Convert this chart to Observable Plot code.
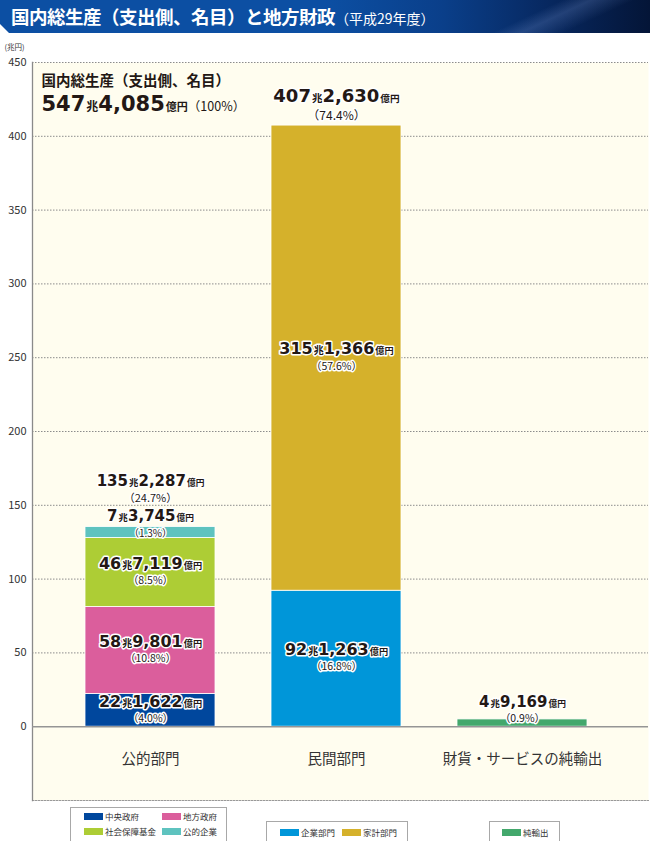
<!DOCTYPE html>
<html><head><meta charset="utf-8">
<script src="https://cdn.jsdelivr.net/npm/d3@7"></script>
<script src="https://cdn.jsdelivr.net/npm/@observablehq/plot@0.6"></script>
<style>
body{margin:0;background:#fff;font-family:"Noto Sans CJK JP","Noto Sans",sans-serif;}
#wrap{position:relative;width:650px;height:841px;overflow:hidden;background:#fff;}
#title{position:absolute;left:0;top:0;width:650px;height:33px;color:#fff;
 background:
  linear-gradient(155deg, rgba(255,255,255,0) 78%, rgba(120,150,210,0.25) 82%, rgba(255,255,255,0) 88%),
  linear-gradient(90deg,#0c4fa3 0%,#0c4fa3 50%,#0a3f8a 68%,#07275e 85%,#041537 100%);
 clip-path:polygon(0 0,100% 0,100% 100%,9px 100%,0 calc(100% - 9px));}
#title .t1{position:absolute;left:11px;top:3px;font-size:18.5px;font-weight:700;letter-spacing:-0.5px;white-space:nowrap;}
#title .t2{font-size:14px;font-weight:400;letter-spacing:0;}
#chart{position:absolute;left:0;top:33px;}
.lg{position:absolute;border:1px solid #a8a8a8;background:#fff;box-sizing:border-box;}
.sw{position:absolute;height:7px;}
.lt{position:absolute;font-size:8.5px;color:#333;white-space:nowrap;line-height:11px;}
</style></head>
<body><div id="wrap">
<div id="title"><div class="t1">国内総生産（支出側、名目）と地方財政<span class="t2">（平成29年度）</span></div></div>
<div id="chart"></div>
</div>
<script>
// ---- data ----
const categories = ["公的部門", "民間部門", "財貨・サービスの純輸出"];
const seriesNames = ["中央政府", "地方政府", "社会保障基金", "公的企業", "企業部門", "家計部門", "純輸出"];
const seriesCategory = ["公的部門", "公的部門", "公的部門", "公的部門", "民間部門", "民間部門", "財貨・サービスの純輸出"];
const values = [22.1622, 58.9801, 46.7119, 7.3745, 92.1263, 315.1366, 4.9169];
const valueLabels = ["22兆1,622億円", "58兆9,801億円", "46兆7,119億円", "7兆3,745億円", "92兆1,263億円", "315兆1,366億円", "4兆9,169億円"];
const percentLabels = ["（4.0%）", "（10.8%）", "（8.5%）", "（1.3%）", "（16.8%）", "（57.6%）", "（0.9%）"];
const totalCategories = ["公的部門", "民間部門"];
const totalValues = [135.2287, 407.2630];
const totalLabels = ["135兆2,287億円", "407兆2,630億円"];
const totalPercents = ["（24.7%）", "（74.4%）"];
const gdpTitle = "国内総生産（支出側、名目）";
const gdpLabel = "547兆4,085億円（100%）";
const colors = ["#00479d", "#db5e9c", "#adcd35", "#5ec3bf", "#0096d9", "#d5b12b", "#43a86c"];
const legendGroups = [["中央政府", "地方政府", "社会保障基金", "公的企業"], ["企業部門", "家計部門"], ["純輸出"]];
const yTicks = [0, 50, 100, 150, 200, 250, 300, 350, 400, 450];
const yUnit = "(兆円)";

// ---- rows with stack extents ----
const cum = {};
const rows = seriesNames.map((s, i) => {
  const c = seriesCategory[i];
  const lo = cum[c] || 0, hi = lo + values[i];
  cum[c] = hi;
  return {i, series: s, cat: c, value: values[i], lo, hi, main: valueLabels[i], pct: percentLabels[i]};
});
const totals = totalCategories.map((c, i) => ({cat: c, value: totalValues[i], main: totalLabels[i], pct: totalPercents[i]}));

const ink = "#231815";
const halo = {stroke: "white", strokeWidth: 3, paintOrder: "stroke", strokeLinejoin: "round", fill: ink};
function lbl(data, y, dyMain, dyPct, cls, pctSize) {
  return [
    Plot.text(data, {x: "cat", y, text: "main", dy: dyMain, className: cls, fontWeight: 700, ...halo}),
    Plot.text(data, {x: "cat", y, text: "pct", dy: dyPct, fontSize: pctSize, ...halo})
  ];
}
const segs = rows.filter(d => ![3, 6].includes(d.i));
const mid = d => (d.lo + d.hi) / 2;

const chart = Plot.plot({
  width: 650, height: 770,
  marginLeft: 32, marginRight: 2, marginTop: 29, marginBottom: 3,
  style: {fontFamily: "'Noto Sans CJK JP', sans-serif", color: "#333", background: "transparent"},
  x: {domain: categories, paddingInner: 0.3, paddingOuter: 0.3, align: 0.464, axis: null},
  y: {domain: [-50, 450], axis: null},
  color: {domain: seriesNames, range: colors},
  marks: [
    Plot.frame({fill: "#fffdef", stroke: "none"}),
    Plot.gridY(yTicks.filter(v => v > 0), {stroke: "#8c8c8c", strokeOpacity: 1, strokeDasharray: "1.5,1.5"}),
    Plot.frame({anchor: "bottom", stroke: "#999", strokeDasharray: "1.5,1.5"}),
    Plot.frame({anchor: "left", stroke: "#8a8a8a", strokeWidth: 1.3}),
    Plot.barY(rows, {x: "cat", y: "value", fill: "series", order: seriesNames, stroke: "white", strokeWidth: 0.8}),
    Plot.ruleY([0], {stroke: "#959595", strokeWidth: 1.6}),
    Plot.axisY(yTicks, {tickSize: 0, tickPadding: 6, fontSize: 11, label: null}),
    Plot.axisX({tickSize: 0, tickPadding: 0, dy: -47, fontSize: 14.5, label: null, fill: "#333"}),
    Plot.text([yUnit], {frameAnchor: "top-left", dx: -28, dy: -18, textAnchor: "start", fontSize: 7.5, fill: "#333"}),
    Plot.text([gdpTitle], {frameAnchor: "top-left", dx: 9, dy: 13, textAnchor: "start", fontSize: 14.5, fontWeight: 700, fill: ink}),
    Plot.text([gdpLabel], {frameAnchor: "top-left", dx: 9, dy: 41, textAnchor: "start", fontWeight: 700, fill: ink, className: "gdp"}),
    ...lbl(segs, mid, -7, 8, "seg", 10.5),
    ...lbl(rows.filter(d => d.i === 3), "hi", -9, 6.5, "small", 10),
    ...lbl(rows.filter(d => d.i === 6), "hi", -16, -1, "small", 10.5),
    ...lbl(totals.filter(d => d.cat === "公的部門"), "value", -44, -29, "small", 11),
    ...lbl(totals.filter(d => d.cat === "民間部門"), "value", -27, -9, "big", 12)
  ]
});

function richify(svg, cls, big, unit, rest) {
  d3.select(svg).selectAll(`g.${cls} text`).each(function () {
    const s = this.textContent;
    const m = s.match(/^(\d+)兆([\d,]+)億円(.*)$/);
    if (!m) return;
    const t = d3.select(this);
    t.text(null);
    const num = "'DejaVu Sans', sans-serif";
    t.append("tspan").attr("font-size", big).attr("font-family", num).text(m[1]);
    t.append("tspan").attr("font-size", unit).attr("dx", 1).text("兆");
    t.append("tspan").attr("font-size", big).attr("font-family", num).text(m[2]);
    t.append("tspan").attr("font-size", unit * 0.92).attr("dx", 1).text("億円");
    if (m[3]) t.append("tspan").attr("font-size", rest).attr("font-weight", 400).text(m[3]);
  });
}
richify(chart, "seg", 16, 10, 10);
richify(chart, "small", 15, 9.5, 10);
richify(chart, "big", 18, 10.5, 10);
richify(chart, "gdp", 21, 12, 12.5);
document.getElementById("chart").appendChild(chart);

// ---- legends ----
const wrap = document.getElementById("wrap");
const boxes = [
  {left: 70, top: 807, w: 157, items: [[13, 5], [91, 5], [13, 20], [91, 20]]},
  {left: 266, top: 821, w: 142, items: [[13, 7], [75, 7]]},
  {left: 489, top: 821, w: 71, items: [[12, 7]]}
];
legendGroups.forEach((g, gi) => {
  const b = boxes[gi];
  const box = document.createElement("div");
  box.className = "lg";
  Object.assign(box.style, {left: b.left + "px", top: b.top + "px", width: b.w + "px", height: (845 - b.top) + "px"});
  g.forEach((name, k) => {
    const [sx, sy] = b.items[k];
    const sw = document.createElement("div");
    sw.className = "sw";
    Object.assign(sw.style, {left: sx + "px", top: sy + "px", width: "19px", background: colors[seriesNames.indexOf(name)]});
    const tx = document.createElement("div");
    tx.className = "lt";
    Object.assign(tx.style, {left: (sx + 21) + "px", top: (sy - 2) + "px"});
    tx.textContent = name;
    box.appendChild(sw);
    box.appendChild(tx);
  });
  wrap.appendChild(box);
});
</script>
</body></html>
